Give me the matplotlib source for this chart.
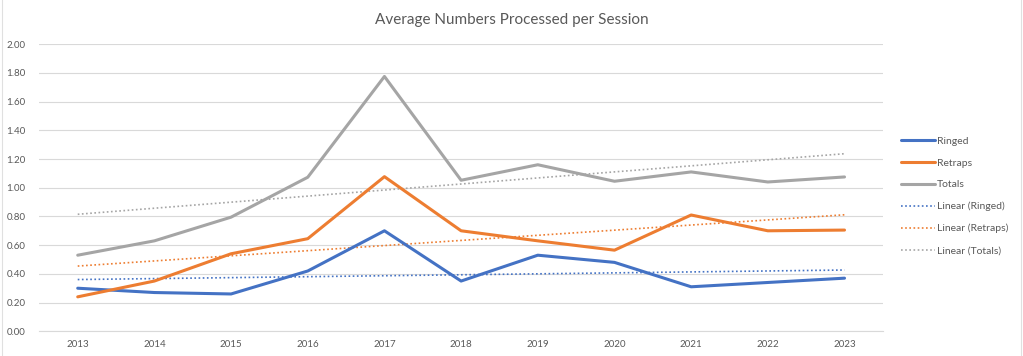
import numpy as np
import matplotlib.pyplot as plt
from matplotlib.lines import Line2D

years = [2013, 2014, 2015, 2016, 2017, 2018, 2019, 2020, 2021, 2022, 2023]
ringed = [0.30, 0.27, 0.26, 0.42, 0.70, 0.35, 0.53, 0.48, 0.31, 0.34, 0.37]
retraps = [0.24, 0.35, 0.54, 0.645, 1.077, 0.70, 0.63, 0.565, 0.81, 0.70, 0.705]
totals = [0.53, 0.63, 0.795, 1.073, 1.775, 1.052, 1.16, 1.045, 1.11, 1.04, 1.075]

series_names = ['Ringed', 'Retraps', 'Totals']
colors = ['#4472C4', '#ED7D31', '#A5A5A5']
text_col = '#595959'

plt.rcParams['font.family'] = ['Lato', 'DejaVu Sans']

fig = plt.figure(figsize=(10.23, 3.56), dpi=100)
ax = fig.add_axes([0.0385, 0.0694, 0.8245, 0.8066])

x = np.arange(len(years))
handles = []
trend_handles = []
for name, vals, c in zip(series_names, [ringed, retraps, totals], colors):
    h, = ax.plot(x, vals, color=c, lw=2.2, solid_capstyle='round', solid_joinstyle='round', label=name, zorder=3)
    handles.append(h)
for name, vals, c in zip(series_names, [ringed, retraps, totals], colors):
    # linear trendline, same as excel
    k, d = np.polyfit(x, vals, 1)
    t, = ax.plot(x, k * x + d, color=c, lw=1.2, ls=(0, (1, 1.5)), label='Linear (' + name + ')', zorder=2)
    trend_handles.append(t)

ax.set_xlim(-0.5, len(years) - 0.5)
ax.set_ylim(0, 2.0)
ax.set_yticks(np.arange(0, 2.01, 0.2))
ax.set_yticklabels(['%.2f' % v for v in np.arange(0, 2.01, 0.2)])
ax.set_xticks(x)
ax.set_xticklabels([str(y) for y in years])
ax.tick_params(length=0, labelsize=7, colors=text_col, pad=6)
ax.tick_params(axis='y', pad=10)
ax.grid(axis='y', color='#D9D9D9', lw=0.8)
ax.set_axisbelow(True)
for s in ['top', 'right', 'left']:
    ax.spines[s].set_visible(False)
ax.spines['bottom'].set_color('#D9D9D9')
ax.spines['bottom'].set_linewidth(0.8)

fig.text(0.5, 0.945, 'Average Numbers Processed per Session', ha='center', va='center',
         fontsize=11, color=text_col)

leg = fig.legend(handles + trend_handles, [h.get_label() for h in handles + trend_handles],
                 loc='center left', bbox_to_anchor=(0.881, 0.45), frameon=False,
                 fontsize=7.5, labelcolor=text_col, handlelength=3.2, handletextpad=0.25,
                 labelspacing=1.2, borderaxespad=0, borderpad=0)

# faint sheet border at the edges
fig.add_artist(Line2D([0.002, 0.002], [0, 1], color='#E0E0E0', lw=0.8, transform=fig.transFigure))
fig.add_artist(Line2D([0.998, 0.998], [0, 1], color='#E0E0E0', lw=0.8, transform=fig.transFigure))

fig.savefig('out.png', dpi=100)
